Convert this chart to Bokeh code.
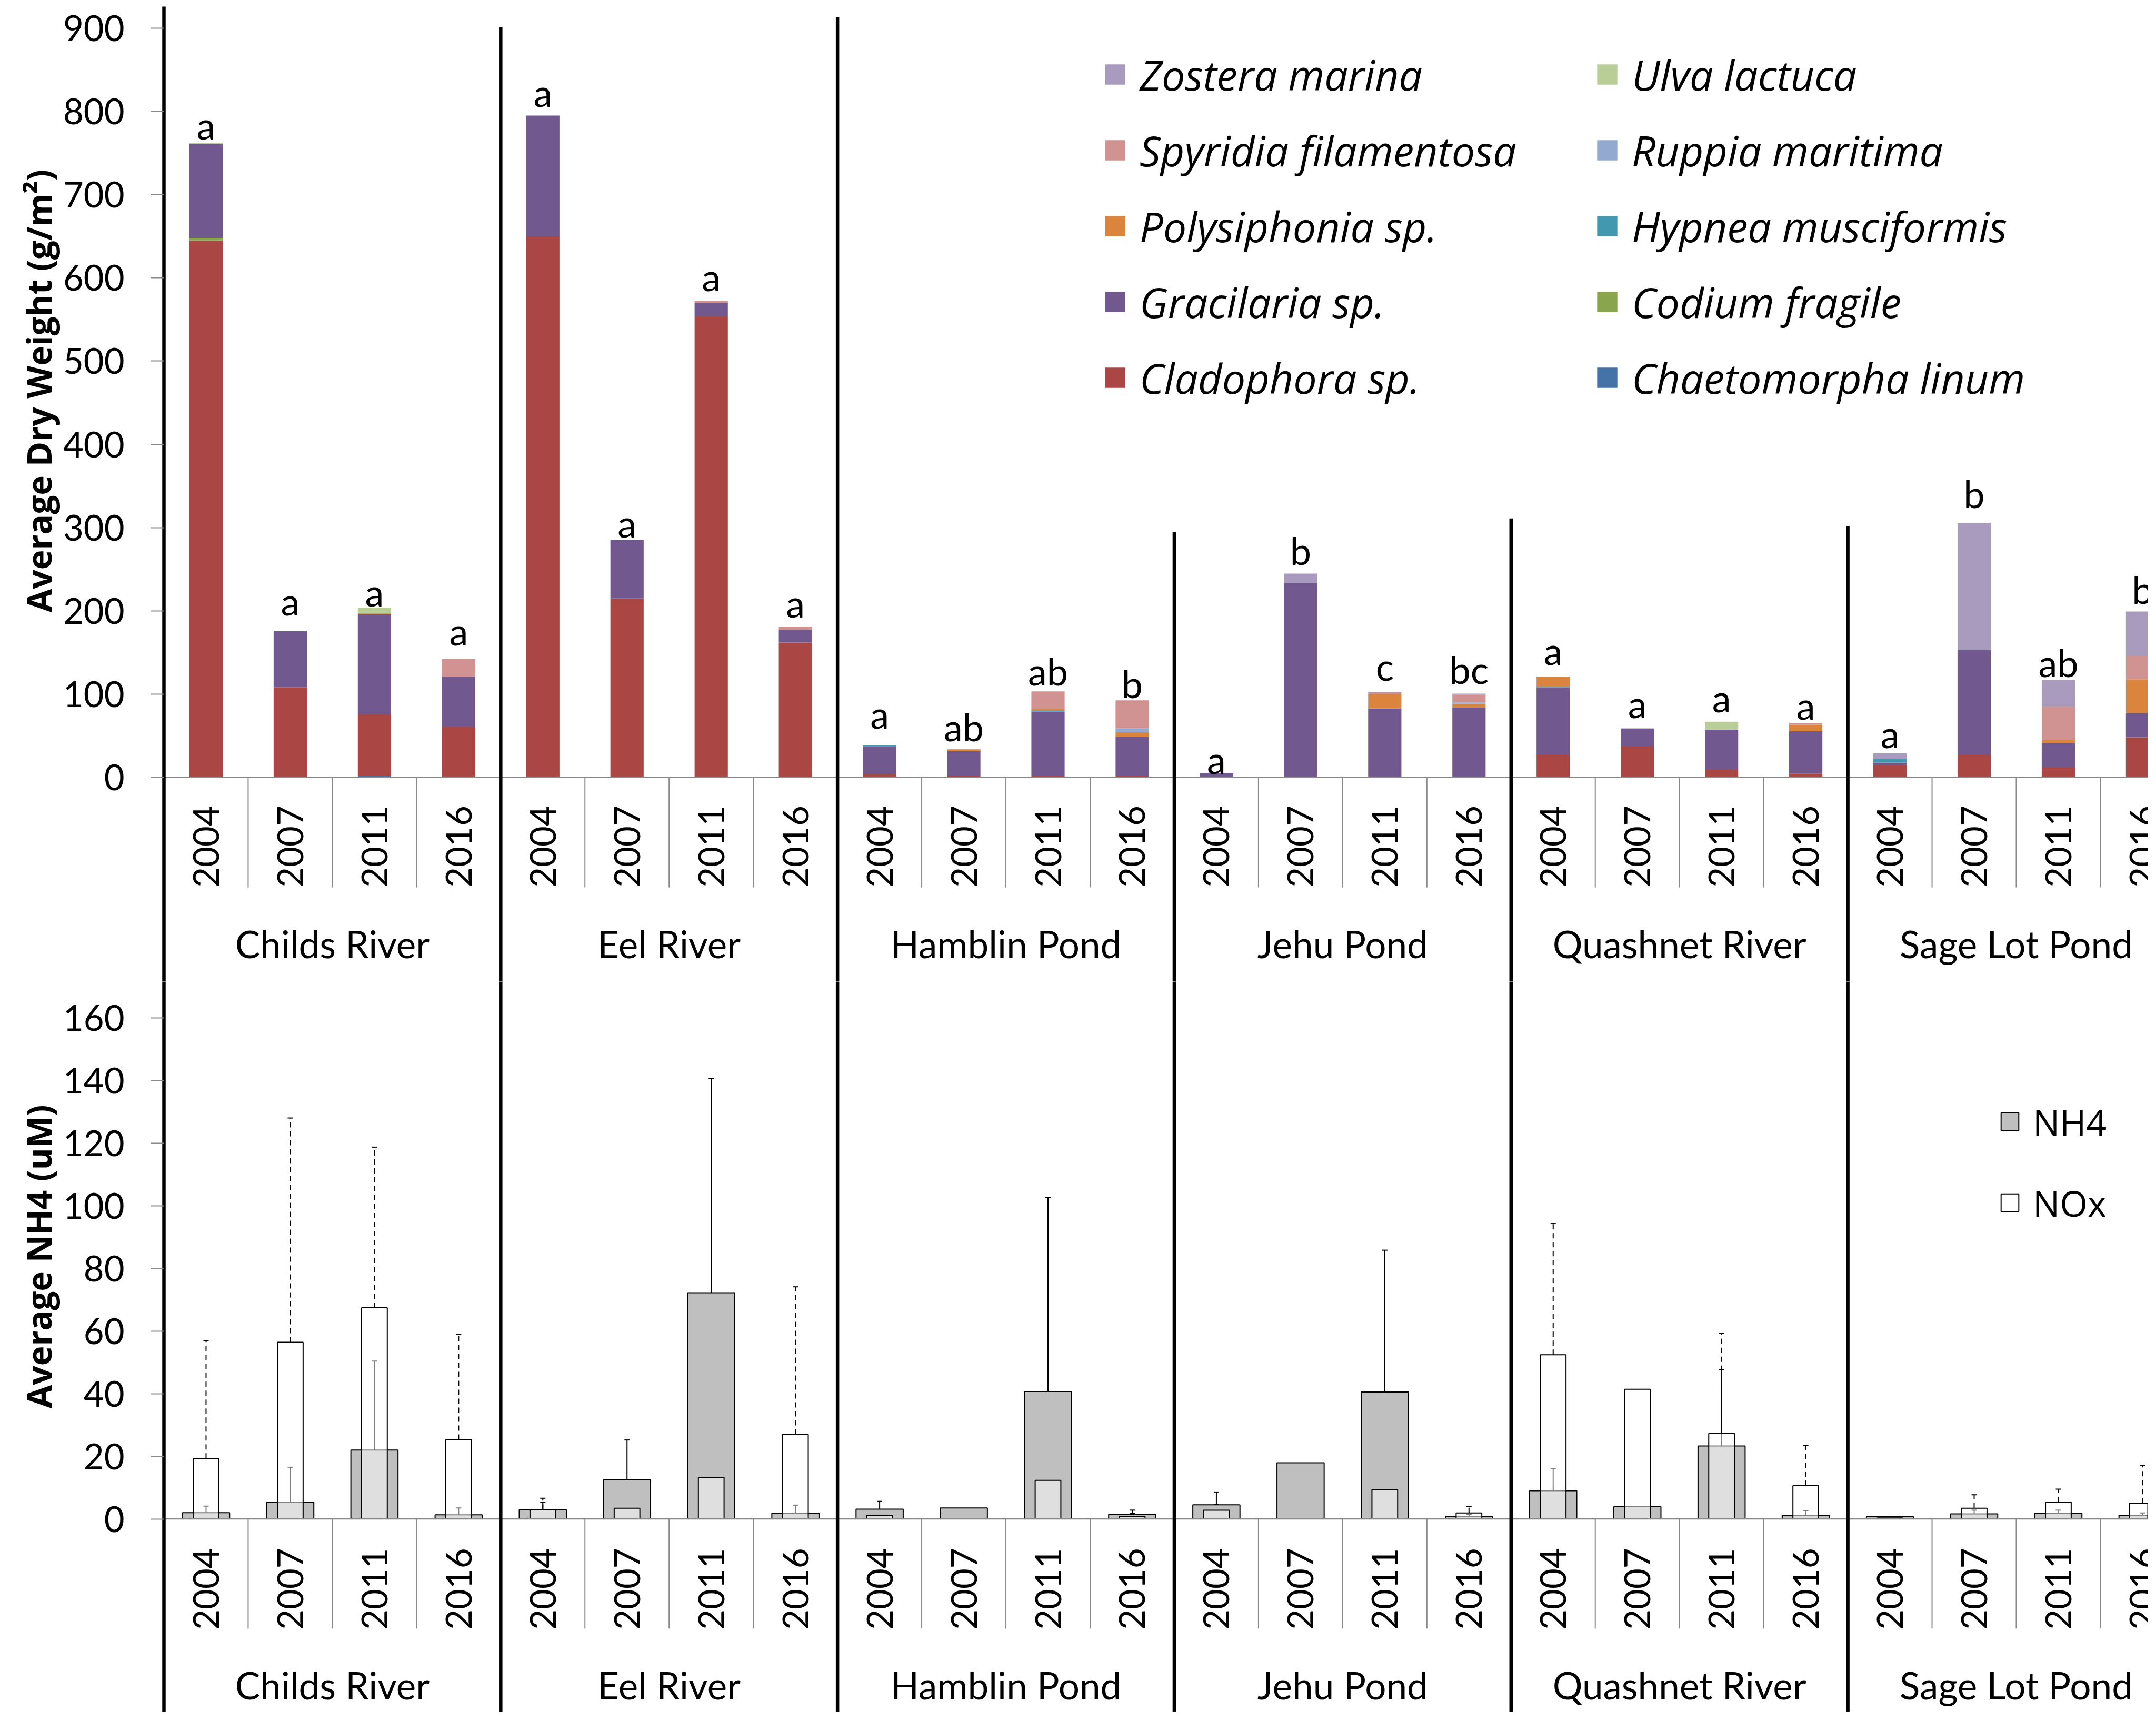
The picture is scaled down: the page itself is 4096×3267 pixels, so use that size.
import math
from bokeh.plotting import figure
from bokeh.models import (Range1d, FixedTicker, ColumnDataSource, Legend, LegendItem,
                          Whisker, TeeHead, Title)
from bokeh.layouts import column
from bokeh.embed import file_html
from bokeh.resources import INLINE
from bokeh.core.properties import value

# ---------------- data ----------------
groups = ["Childs River", "Eel River", "Hamblin Pond", "Jehu Pond", "Quashnet River", "Sage Lot Pond"]
years = ["2004", "2007", "2011", "2016"]

species = ["Chaetomorpha linum", "Cladophora sp.", "Codium fragile", "Gracilaria sp.",
           "Hypnea musciformis", "Polysiphonia sp.", "Ruppia maritima",
           "Spyridia filamentosa", "Ulva lactuca", "Zostera marina"]
species_colors = ["#4572A7", "#AA4643", "#89A54E", "#71588F", "#4198AF",
                  "#DB843D", "#93A9CF", "#D19392", "#B9CD96", "#A99BBD"]

# biomass (g/m2), one value per group/year, order: group x year
chaetomorpha = [0, 0, 2, 0,   0, 0, 0, 0,   0, 0, 0, 0.6,   0, 0, 0, 0,   0, 0, 0, 0,   0, 0, 0, 0]
cladophora = [645, 108, 74, 61,   650, 215, 554, 162,   4, 2, 2.3, 1.2,   0, 0, 0, 0,
              27, 37, 9.2, 4.6,   14.8, 27, 12.5, 48.2]
codium = [3, 0, 0, 0,   0, 0, 0, 0,   0, 0, 0, 0,   0, 0, 0, 0,   0, 0, 0, 0,   0, 0, 0, 0]
gracilaria = [113, 67.7, 120, 60,   145, 70, 16, 15.3,   33.5, 29.5, 76.6, 46.9,
              5.4, 233.5, 82.9, 83.9,   81, 21.7, 48.2, 50.8,   2.9, 126, 28.7, 29]
hypnea = [0, 0, 0, 0,   0, 0, 0, 0,   1, 0, 1.2, 0,   0, 0, 0, 0,   1, 0, 0, 0,   4.2, 0, 0, 0]
polysiphonia = [0, 0, 0.5, 0,   0, 0, 0, 0,   0, 2.3, 2.4, 5.4,   0, 0, 17.2, 4.6,
                12.2, 0, 0, 7.9,   0, 0, 3.6, 40.6]
ruppia = [0, 0, 0, 0,   0, 0, 0, 0,   0, 0, 0, 4.9,   0, 0, 0, 1.6,   0, 0, 0, 0,   0, 0, 0, 0]
spyridia = [0, 0, 0.5, 21,   0, 0, 2, 4,   0, 0, 20.8, 33.6,   0, 0, 1.5, 9.4,
            0, 0, 0, 2.3,   0, 0, 40.1, 28]
ulva = [1.5, 0, 7, 0,   0, 0, 0, 0,   0, 0, 0, 0,   0, 0, 0, 0,   0, 0.7, 9.6, 0,   0, 0, 0, 0]
zostera = [0, 0, 0, 0,   0, 0, 0, 0,   0, 0, 0, 0,   0, 11.3, 1.3, 1.1,   0, 0, 0, 0,
           7.1, 152.8, 31.9, 53.5]

sig_letters = ["a", "a", "a", "a",   "a", "a", "a", "a",   "a", "ab", "ab", "b",
               "a", "b", "c", "bc",   "a", "a", "a", "a",   "a", "b", "ab", "b"]
# baseline heights (g/m2) of the significance letters
sig_y = [784, 212, 223, 176,   823, 306, 602, 210,   76, 61, 128, 113,
         22, 273, 134, 130,   153, 89, 96, 87,   53, 341, 138, 226]

# nutrients (uM)
nh4 = [2, 5.3, 22, 1.3,   2.9, 12.5, 72.2, 1.8,   3.1, 3.5, 40.7, 1.45,
       4.5, 17.9, 40.5, 0.8,   9.0, 3.9, 23.3, 1.2,   0.7, 1.6, 1.8, 1.2]
nh4_err = [2.1, 11.2, 28.4, 2.2,   2.4, 12.7, 68.4, 2.6,   2.5, 0, 61.9, 1.35,
           4.1, 0, 45.3, 0.65,   7.0, 0, 24.3, 1.5,   0.1, 1.2, 1.0, 0.7]
nox = [19.3, 56.4, 67.4, 25.3,   3.0, 3.4, 13.3, 27.0,   1.1, 0, 12.3, 0.8,
       2.8, 0, 9.3, 1.9,   52.4, 41.4, 27.3, 10.6,   0.3, 3.4, 5.4, 5.0]
nox_err = [37.7, 71.6, 51.3, 33.7,   3.6, 0, 11.7, 47.1,   1.25, 0, 20.5, 0.9,
           1.9, 0, 12.6, 2.1,   41.9, 0, 31.9, 12.9,   0.2, 4.3, 4.1, 12.0]

top_ticks = [0, 100, 200, 300, 400, 500, 600, 700, 800, 900]
bot_ticks = [0, 20, 40, 60, 80, 100, 120, 140, 160]

# top ends (g/m2) of the black group divider lines after the first group
divider_top = [901, 913, 295, 311, 302]

# ---------------- layout constants ----------------
W = 4080
LEFT = 311
TOP_H = 1864
TOP_PAD = 12
BOT_H = 1387
N = len(groups) * len(years)
slots = list(range(N))
year_text = years * len(groups)
group_x = [i * len(years) + (len(years) - 1) / 2 for i in range(len(groups))]
bounds = [(i + 1) * len(years) - 0.5 for i in range(len(groups) - 1)]

xr = Range1d(-0.5, 23.063)

TICK_FONT = "Lato"
GRAY = "#898989"


def base_fig(height, y0, y1, ticks, pad_top=0):
    p = figure(width=W, height=height, x_range=xr, y_range=Range1d(y0, y1),
               output_backend="svg", toolbar_location=None, title=None,
               x_axis_location=None,
               min_border_left=LEFT, min_border_right=0, min_border_top=pad_top, min_border_bottom=0)
    p.outline_line_color = None
    p.grid.visible = False
    ax = p.yaxis[0]
    ax.ticker = FixedTicker(ticks=ticks)
    ax.axis_line_color = "black"
    ax.axis_line_width = 6.5
    ax.major_tick_in = 0
    ax.major_tick_out = 25
    ax.major_tick_line_color = GRAY
    ax.major_tick_line_width = 2
    ax.minor_tick_line_color = None
    ax.major_label_standoff = 50
    ax.major_label_text_font = TICK_FONT
    ax.major_label_text_font_size = "67px"
    ax.major_label_text_color = "black"
    return p


def category_axis(p, sep_low, year_y, group_y):
    # baseline and slot separators
    p.segment(x0=[-0.5], y0=[0], x1=[N], y1=[0], line_color=GRAY, line_width=2.5)
    p.segment(x0=[s + 0.5 for s in slots[:-1]], y0=0, x1=[s + 0.5 for s in slots[:-1]], y1=sep_low,
              line_color=GRAY, line_width=2)
    p.text(x=slots, y=year_y, text=year_text, angle=math.pi / 2,
           text_align="right", text_baseline="middle",
           text_font=value(TICK_FONT), text_font_size=value("67px"), text_color="black")
    p.text(x=group_x, y=group_y, text=groups, text_align="center", text_baseline="alphabetic",
           text_font=value(TICK_FONT), text_font_size=value("71px"), text_color="black")


# ---------------- top panel: biomass ----------------
top = base_fig(TOP_H, -245.3, 925.9, top_ticks, pad_top=TOP_PAD)

src = ColumnDataSource(dict(x=slots, **{
    species[0]: chaetomorpha, species[1]: cladophora, species[2]: codium, species[3]: gracilaria,
    species[4]: hypnea, species[5]: polysiphonia, species[6]: ruppia, species[7]: spyridia,
    species[8]: ulva, species[9]: zostera}))

stack_r = top.vbar_stack(species, x="x", width=0.395, color=species_colors, line_color=None,
                         source=src)

top.text(x=slots, y=sig_y, text=sig_letters, text_align="center", text_baseline="alphabetic",
         text_font=value("Lato"), text_font_size=value("72px"), text_color="black")

category_axis(top, -132.2, -33.9, -199.5)

top.segment(x0=bounds, y0=divider_top, x1=bounds, y1=-400, line_color="black", line_width=6.5)

top.add_layout(Title(text="Average Dry Weight (g/m²)", align="left", offset=701.6, standoff=0,
                     vertical_align="bottom", text_font="Open Sans", text_font_style="bold",
                     text_font_size="64px", text_color="black"), "left")

rmap = dict(zip(species, stack_r))
col1 = ["Zostera marina", "Spyridia filamentosa", "Polysiphonia sp.", "Gracilaria sp.", "Cladophora sp."]
col2 = ["Ulva lactuca", "Ruppia maritima", "Hypnea musciformis", "Codium fragile", "Chaetomorpha linum"]
for names, lx in ((col1, 1783), (col2, 2718)):
    leg = Legend(items=[LegendItem(label=n, renderers=[rmap[n]]) for n in names],
                 location=(lx, 1075), orientation="vertical",
                 glyph_width=48, glyph_height=48, label_height=144, label_width=20,
                 spacing=0, padding=0, margin=0, label_standoff=23,
                 border_line_color=None, background_fill_alpha=0,
                 label_text_font="Open Sans", label_text_font_style="italic",
                 label_text_font_size="79px", label_text_color="black")
    top.add_layout(leg)

# ---------------- bottom panel: nutrients ----------------
bot = base_fig(BOT_H, -61.6, 171.55, bot_ticks)

nsrc = ColumnDataSource(dict(x=slots, nh4=nh4, nox=nox))
r_nh4 = bot.vbar(x="x", top="nh4", bottom=0, width=0.56, source=nsrc,
                 fill_color="#BFBFBF", line_color="black", line_width=2)

e1 = [i for i in slots if nh4_err[i] > 0]
nh4_w = ColumnDataSource(dict(x=e1, lo=[nh4[i] for i in e1], hi=[nh4[i] + nh4_err[i] for i in e1]))
bot.add_layout(Whisker(base="x", lower="lo", upper="hi", source=nh4_w, dimension="height",
                       line_color="black", line_width=2, lower_head=None,
                       upper_head=TeeHead(size=10, line_color="black", line_width=2),
                       level="underlay"))

r_nox = bot.vbar(x="x", top="nox", bottom=0, width=0.305, source=nsrc,
                 fill_color="white", fill_alpha=0.5, line_color="black", line_width=2)

e2 = [i for i in slots if nox_err[i] > 0]
nox_w = ColumnDataSource(dict(x=e2, lo=[nox[i] for i in e2], hi=[nox[i] + nox_err[i] for i in e2]))
bot.add_layout(Whisker(base="x", lower="lo", upper="hi", source=nox_w, dimension="height",
                       line_color="black", line_width=2, line_dash="10 7", lower_head=None,
                       upper_head=TeeHead(size=10, line_color="black", line_width=2)))

category_axis(bot, -35.0, -9.3, -53.0)

bot.segment(x0=bounds, y0=300, x1=bounds, y1=-100, line_color="black", line_width=6.5)

bot.add_layout(Title(text="Average NH4 (uM)", align="left", offset=576.6, standoff=0,
                     vertical_align="bottom", text_font="Open Sans", text_font_style="bold",
                     text_font_size="64px", text_color="black"), "left")

leg2 = Legend(items=[LegendItem(label="NH4", renderers=[r_nh4]), LegendItem(label="NOx", renderers=[r_nox])],
              location=(3486, 890), orientation="vertical",
              glyph_width=42, glyph_height=42, label_height=154, label_width=20,
              spacing=0, padding=0, margin=0, label_standoff=23,
              border_line_color=None, background_fill_alpha=0,
              label_text_font="Open Sans", label_text_font_size="68px", label_text_color="black")
bot.add_layout(leg2)

layout = column(top, bot, spacing=0)
open("out.html", "w").write(file_html(layout, INLINE))
